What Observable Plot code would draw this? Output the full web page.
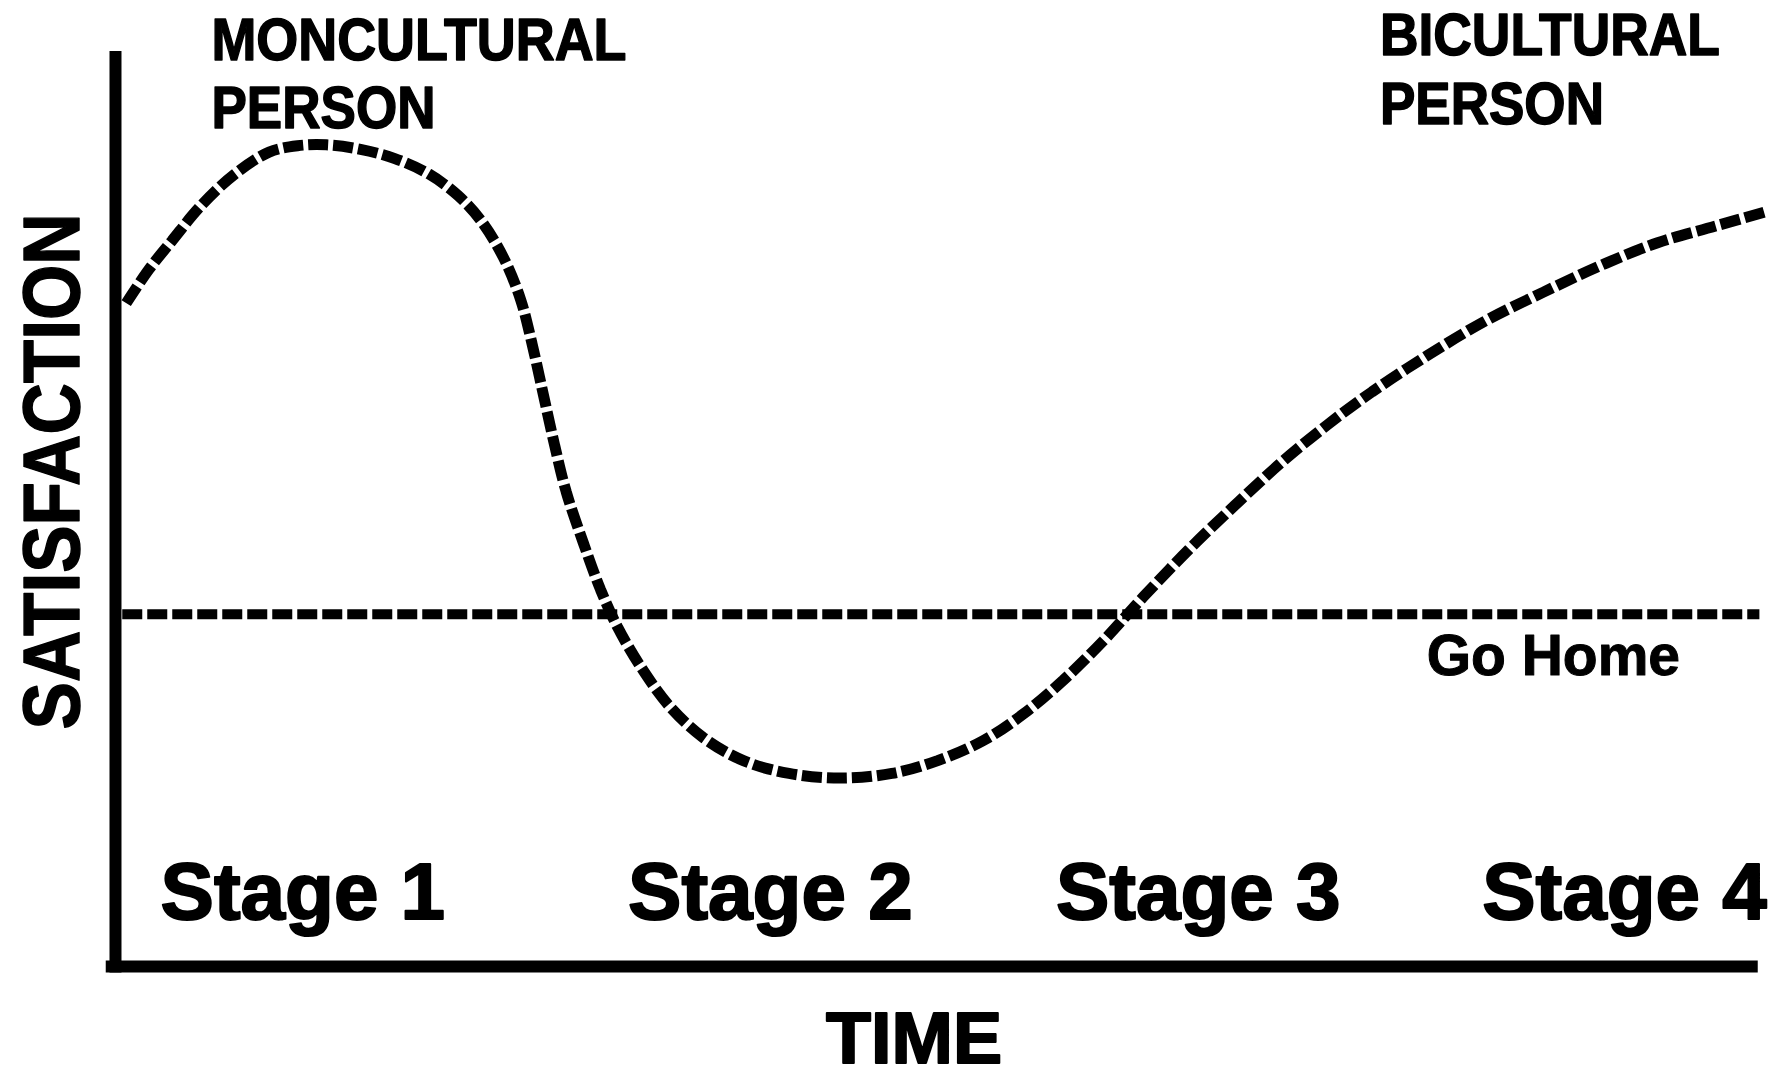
<!DOCTYPE html>
<html><head><meta charset="utf-8">
<script src="https://cdn.jsdelivr.net/npm/d3@7"></script>
<script src="https://cdn.jsdelivr.net/npm/@observablehq/plot@0.6"></script>
<style>html,body{margin:0;padding:0;background:#fff;overflow:hidden} svg{display:block}</style>
</head><body><div id="chart"></div>
<script>
// Time (0–100) and satisfaction (0–100)
const time = [0.71, 2.09, 3.47, 5.21, 7.28, 9.36, 11.08, 12.82, 14.89, 16.97, 19.04, 20.77, 22.15, 23.54, 24.58, 25.27, 25.96, 26.65, 27.34, 28.38, 29.42, 30.45, 31.84, 33.57, 35.65, 38.07, 40.83, 43.95, 47.06, 49.83, 52.6, 55.02, 57.44, 59.86, 62.28, 65.05, 67.82, 70.58, 73.35, 76.12, 79.58, 83.03, 86.5, 89.95, 93.41, 96.87, 99.99];
const satisfaction = [72.5, 76.2, 79.3, 83.1, 86.6, 89.0, 89.7, 89.8, 89.3, 88.3, 86.6, 84.3, 81.6, 77.5, 72.9, 68.1, 62.5, 56.9, 51.9, 46.3, 41.2, 37.1, 32.8, 28.5, 25.0, 22.5, 21.1, 20.6, 21.1, 22.5, 24.7, 27.6, 31.3, 35.6, 40.4, 45.6, 50.4, 55.0, 59.1, 62.8, 66.9, 70.6, 73.7, 76.6, 79.1, 80.9, 82.5];
const goHomeLevel = 38.5;
const stageLabels = ["Stage 1", "Stage 2", "Stage 3", "Stage 4"];
const stageTimes = [11.4, 39.7, 65.6, 91.4];
const axisXLabel = "TIME";
const axisYLabel = "SATISFACTION";
const goHomeLabel = "Go Home";
const leftLabel = ["MONCULTURAL", "PERSON"];
const rightLabel = ["BICULTURAL", "PERSON"];

const curve = time.map((t, i) => ({t, s: satisfaction[i]}));
const stages = stageLabels.map((label, i) => ({label, t: stageTimes[i]}));

const font = "'Liberation Sans', Arial, Helvetica, sans-serif";
const heavy = {fontWeight: "bold", fill: "black", stroke: "black"};

const chart = Plot.plot({
  width: 1792, height: 1080,
  marginLeft: 114, marginRight: 26, marginTop: 51, marginBottom: 114,
  x: {domain: [0, 100], axis: null},
  y: {domain: [0, 100], axis: null},
  style: {background: "white", fontFamily: font, color: "black"},
  marks: [
    Plot.ruleX([0.06], {y1: -0.7, y2: 100, stroke: "black", strokeWidth: 12}),
    Plot.ruleY([0], {x1: -0.5, x2: 99.5, stroke: "black", strokeWidth: 12}),
    Plot.ruleY([goHomeLevel], {x1: 0.5, x2: 99.6, stroke: "black", strokeWidth: 10, strokeDasharray: "20 5", strokeLinecap: "butt"}),
    Plot.line(curve, {x: "t", y: "s", curve: "catmull-rom", stroke: "black", strokeWidth: 11, strokeDasharray: "20 5", strokeLinecap: "butt", strokeLinejoin: "miter"}),
    Plot.text(stages, {x: "t", y: 5.2, text: "label", fontSize: 80, lineAnchor: "bottom", ...heavy, strokeWidth: 2}),
    Plot.text([leftLabel[0]], {x: 5.87, y: 99.1, text: d => d, textAnchor: "start", lineAnchor: "bottom", fontSize: 60, ...heavy, strokeWidth: 1.5}),
    Plot.text([leftLabel[1]], {x: 5.87, y: 91.6, text: d => d, textAnchor: "start", lineAnchor: "bottom", fontSize: 60, ...heavy, strokeWidth: 1.5}),
    Plot.text([rightLabel[0]], {x: 76.6, y: 99.6, text: d => d, textAnchor: "start", lineAnchor: "bottom", fontSize: 60, ...heavy, strokeWidth: 1.5}),
    Plot.text([rightLabel[1]], {x: 76.6, y: 92.1, text: d => d, textAnchor: "start", lineAnchor: "bottom", fontSize: 60, ...heavy, strokeWidth: 1.5}),
    Plot.text([goHomeLabel], {x: 87.1, y: 31.9, text: d => d, lineAnchor: "bottom", fontSize: 57, ...heavy, strokeWidth: 1}),
    Plot.text([axisXLabel], {x: 48.4, y: -10.6, text: d => d, lineAnchor: "bottom", fontSize: 73, ...heavy, strokeWidth: 2}),
    Plot.text([axisYLabel], {x: -3.7, y: 54.1, text: d => d, rotate: -90, lineAnchor: "middle", fontSize: 80, ...heavy, strokeWidth: 1.5})
  ]
});

// squeeze text widths to match the reference lettering
const widths = {"MONCULTURAL": 415, "BICULTURAL": 340, "SATISFACTION": 516, "TIME": 176, "PERSON": 224};
d3.select(chart).selectAll("text").each(function() {
  const t = this.textContent;
  if (widths[t]) {
    this.setAttribute("textLength", widths[t]);
    this.setAttribute("lengthAdjust", "spacingAndGlyphs");
  }
});
document.getElementById("chart").appendChild(chart);
</script>
</body></html>
